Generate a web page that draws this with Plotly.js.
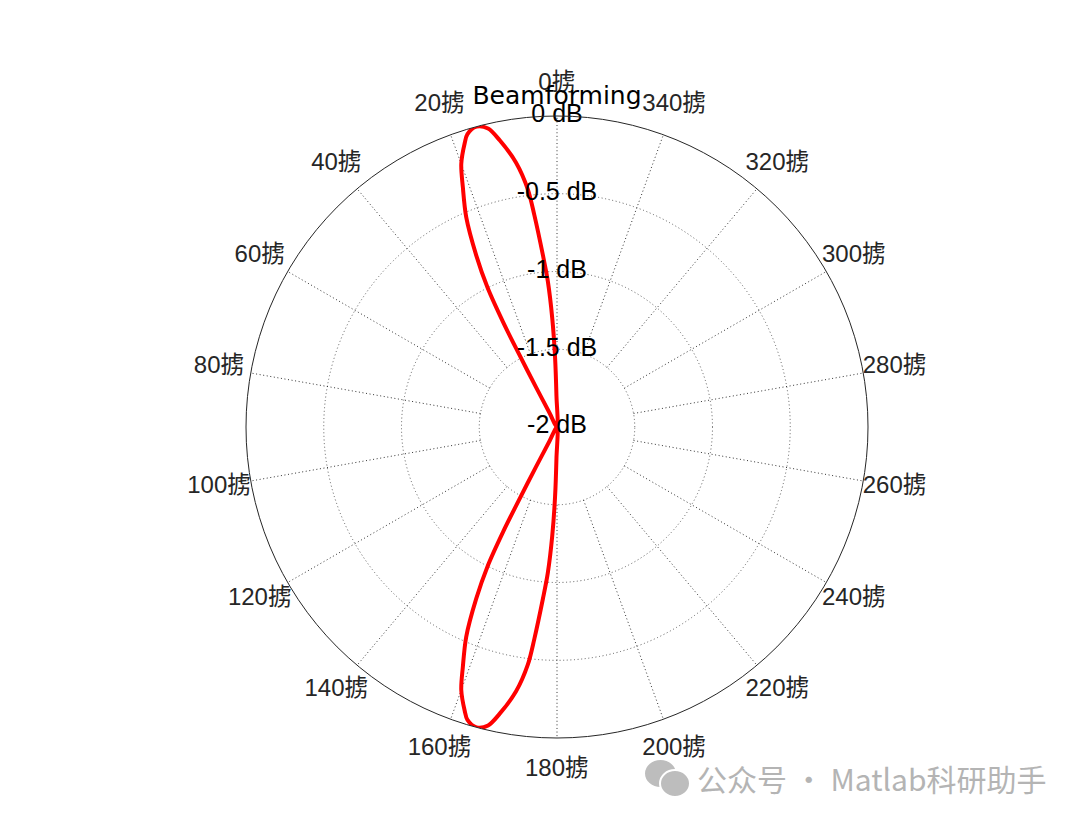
<!DOCTYPE html>
<html>
<head>
<meta charset="utf-8">
<script src="https://cdn.plot.ly/plotly-3.0.1.min.js"></script>
<style>html,body{margin:0;padding:0;background:#fff;}#chart{width:1080px;height:822px;}</style>
</head>
<body>
<div id="chart"></div>
<script>
// ---- data (angle in degrees, level in dB) ----
const thetaUpper = [0, 1.0, 1.6, 2.5, 3.6, 4.7, 6.1, 7.0, 8.8, 11.3, 13.0, 15.0, 17.0, 18.0, 20.0, 21.4, 23.4, 25.2, 26.5, 27.2, 27.5, 27.8, 28.0, 28.5];
const levelUpper = [-2, -1.8, -1.55, -1.3, -1.06, -0.89, -0.63, -0.46, -0.28, -0.12, -0.03, 0, -0.03, -0.08, -0.2, -0.34, -0.53, -0.78, -1.0, -1.24, -1.47, -1.71, -1.9, -2];
const thetaSide = [28.5, 151.5];
const levelSide = [-2, -2];
const thetaLower = [151.5, 152.0, 152.2, 152.5, 152.8, 153.5, 154.8, 156.6, 158.6, 160.0, 162.0, 163.0, 165.0, 167.0, 168.7, 171.2, 173.0, 173.9, 175.3, 176.4, 177.5, 178.4, 179.0, 180];
const levelLower = [-2, -1.9, -1.71, -1.47, -1.24, -1.0, -0.78, -0.53, -0.34, -0.2, -0.08, -0.03, 0, -0.03, -0.12, -0.28, -0.46, -0.63, -0.89, -1.06, -1.3, -1.55, -1.8, -2];
const thetaBack = [180, 270, 360];
const levelBack = [-2, -2, -2];

const angleTicks = [0, 20, 40, 60, 80, 100, 120, 140, 160, 180, 200, 220, 240, 260, 280, 300, 320, 340];
const angleLabels = ['0掳', '20掳', '40掳', '60掳', '80掳', '100掳', '120掳', '140掳', '160掳', '180掳', '200掳', '220掳', '240掳', '260掳', '280掳', '300掳', '320掳', '340掳'];
const radialTicks = [-2, -1.5, -1, -0.5, 0];
const radialLabels = ['-2 dB', '-1.5 dB', '-1 dB', '-0.5 dB', '0 dB'];

// ---- build traces ----
const rMin = radialTicks[0], rMax = radialTicks[radialTicks.length - 1];

const spokeTheta = [], spokeR = [];
angleTicks.forEach(a => { spokeTheta.push(a, a, null); spokeR.push(radialTicks[1], rMax, null); });

const FONT = 'Liberation Sans, Arial, Helvetica, sans-serif';
const RED = {color: '#ff0000', width: 4, shape: 'spline', smoothing: 0.9};

const traces = [
  {
    type: 'scatterpolar', mode: 'lines', theta: spokeTheta, r: spokeR,
    line: {color: '#333333', width: 1, dash: '1px,2.6px'}, hoverinfo: 'skip', connectgaps: false
  },
  {type: 'scatterpolar', mode: 'lines', theta: thetaUpper, r: levelUpper, line: RED, hoverinfo: 'skip'},
  {type: 'scatterpolar', mode: 'lines', theta: thetaSide, r: levelSide, line: {color: '#ff0000', width: 4}, hoverinfo: 'skip'},
  {type: 'scatterpolar', mode: 'lines', theta: thetaLower, r: levelLower, line: RED, hoverinfo: 'skip'},
  {type: 'scatterpolar', mode: 'lines', theta: thetaBack, r: levelBack, line: {color: '#ff0000', width: 4}, hoverinfo: 'skip'},
  {
    type: 'scatterpolar', mode: 'text', theta: radialTicks.map(() => 0), r: radialTicks,
    text: radialLabels, textposition: 'middle center', cliponaxis: false,
    textfont: {family: FONT, size: 25, color: '#000'}, hoverinfo: 'skip'
  },
  // angle labels live on a second, slightly larger, invisible polar frame with the same centre
  {
    type: 'scatterpolar', subplot: 'polar2', mode: 'text', theta: angleTicks, r: angleTicks.map(() => 1),
    text: angleLabels, textposition: 'middle center', cliponaxis: false,
    textfont: {family: FONT + ', Noto Sans CJK SC', size: 24, color: '#262626'}, hoverinfo: 'skip'
  }
];

// geometry: frame radius 311 px, label ring radius 343 px, centre (557, 427)
const M = {l: 34, r: 0, t: 84, b: 52};
const PW = 1080 - M.l - M.r, PH = 822 - M.t - M.b;
const R1 = 311, R2 = 343;
const domX = R => [0.5 - R / PW, 0.5 + R / PW];
const domY = R => [0.5 - R / PH, 0.5 + R / PH];
const px = v => (v - M.l) / PW;   // helpers for watermark placement
const py = v => (822 - M.b - v) / PH;

const layout = {
  width: 1080, height: 822,
  margin: {l: M.l, r: M.r, t: M.t, b: M.b, pad: 0},
  paper_bgcolor: '#ffffff',
  showlegend: false,
  hovermode: false,
  title: {
    text: 'Beamforming', x: 0.5, xref: 'paper', xanchor: 'center',
    y: 1 - 95 / 822, yref: 'container', yanchor: 'middle',
    font: {family: 'DejaVu Sans, sans-serif', size: 25, color: '#000'}
  },
  polar: {
    domain: {x: domX(R1), y: domY(R1)},
    bgcolor: 'rgba(0,0,0,0)',
    angularaxis: {
      rotation: 90, direction: 'counterclockwise',
      tickmode: 'array', tickvals: angleTicks, ticktext: angleLabels,
      showticklabels: false,
      showgrid: false, showline: true, linecolor: '#262626', linewidth: 1,
      ticks: ''
    },
    radialaxis: {
      range: [rMin, rMax], tickmode: 'array', tickvals: radialTicks,
      showticklabels: false, ticks: '', showline: false,
      gridcolor: '#5a5a5a', griddash: '1px,2.6px', gridwidth: 1
    }
  },
  polar2: {
    domain: {x: domX(R2), y: domY(R2)},
    bgcolor: 'rgba(0,0,0,0)',
    angularaxis: {rotation: 90, direction: 'counterclockwise', showticklabels: false, showgrid: false, showline: false, ticks: ''},
    radialaxis: {range: [0, 1], showticklabels: false, showgrid: false, showline: false, ticks: ''}
  },
  shapes: [
    {type: 'circle', xref: 'paper', yref: 'paper', x0: px(645), x1: px(676), y0: py(787), y1: py(760), fillcolor: '#bdbdbd', line: {width: 0}},
    {type: 'circle', xref: 'paper', yref: 'paper', x0: px(660), x1: px(690), y0: py(797), y1: py(770), fillcolor: '#bdbdbd', line: {color: '#ffffff', width: 2}}
  ],
  annotations: [
    {
      text: '公众号 · Matlab科研助手', xref: 'paper', yref: 'paper',
      x: px(695), y: py(778), xanchor: 'left', yanchor: 'middle', showarrow: false,
      font: {family: 'Noto Sans CJK SC, sans-serif', size: 30, color: '#b4b4b4'}
    }
  ]
};

Plotly.newPlot('chart', traces, layout, {displayModeBar: false, staticPlot: true});
</script>
</body>
</html>
